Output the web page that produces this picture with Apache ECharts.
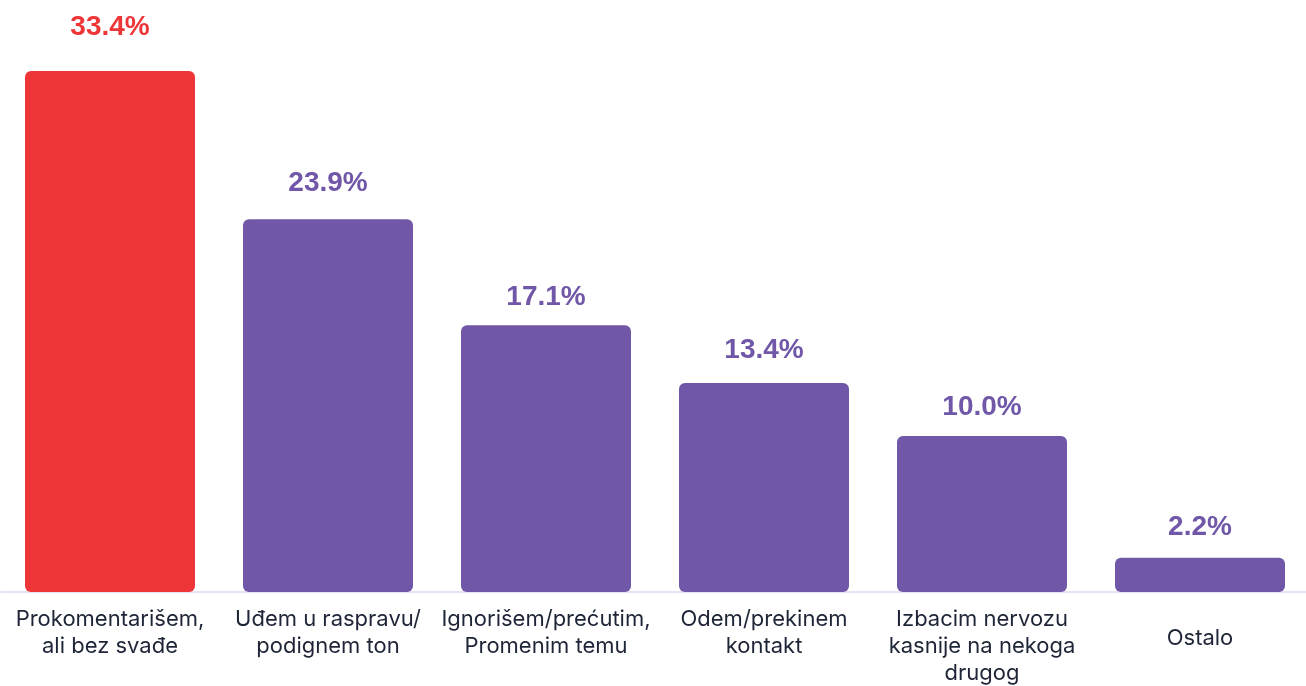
<!DOCTYPE html>
<html>
<head>
<meta charset="utf-8">
<style>
  html, body { margin: 0; padding: 0; background: #fff; }
  #chart { width: 1306px; height: 686px; }
</style>
<script src="https://cdn.jsdelivr.net/npm/echarts@6/dist/echarts.min.js"></script>
</head>
<body>
<div id="chart"></div>
<script>
const categories = [
  'Prokomentarišem,\nali bez svađe',
  'Uđem u raspravu/\npodignem ton',
  'Ignorišem/prećutim,\nPromenim temu',
  'Odem/prekinem\nkontakt',
  'Izbacim nervozu\nkasnije na nekoga\ndrugog',
  'Ostalo'
]
const values = [33.4, 23.9, 17.1, 13.4, 10.0, 2.2]
const barColors = ['#EE3639', '#7057A7', '#7057A7', '#7057A7', '#7057A7', '#7057A7']
// gap between value label and bar top, per bar
const labelGap = [30, 22, 14, 19, 15, 16]

const chart = echarts.init(document.getElementById('chart'))
chart.setOption({
  animation: false,
  grid: { left: 1, right: -3, top: 46, bottom: 94, outerBoundsMode: 'none', containLabel: false },
  xAxis: {
    type: 'category',
    data: categories.map(c => c === 'Ostalo'
      ? { value: c, textStyle: { padding: [19, 0, 0, 0] } }
      : c),
    axisLine: { lineStyle: { color: '#E6E2F1', width: 2 } },
    axisTick: { show: false },
    axisLabel: {
      interval: 0,
      margin: 14,
      verticalAlign: 'top',
      fontFamily: 'Inter',
      fontSize: 22,
      lineHeight: 27,
      color: '#1E2537'
    }
  },
  yAxis: {
    type: 'value',
    min: 0,
    max: 35,
    show: false,
    splitLine: { show: false }
  },
  series: [{
    type: 'bar',
    barWidth: 170,
    data: values.map((v, i) => ({
      value: v,
      itemStyle: { color: barColors[i], borderRadius: 6 },
      label: { color: barColors[i], distance: labelGap[i] }
    })),
    label: {
      show: true,
      position: 'top',
      fontFamily: 'Liberation Sans',
      fontWeight: 'bold',
      fontSize: 28,
      formatter: p => p.value.toFixed(1) + '%'
    }
  }]
})
</script>
</body>
</html>
